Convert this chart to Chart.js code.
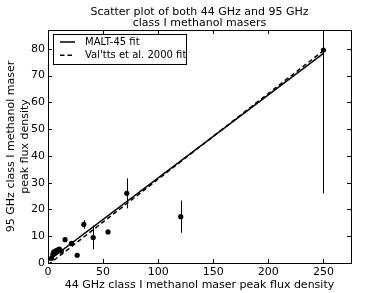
<!DOCTYPE html>
<html>
<head>
<meta charset="utf-8">
<script src="https://cdn.jsdelivr.net/npm/chart.js@4.4.1/dist/chart.umd.min.js"></script>
<style>
  html, body { margin: 0; padding: 0; background: #fff; }
</style>
</head>
<body>
<canvas id="chart" width="390" height="293"></canvas>
<script>
// maser peak flux densities
const flux44 = [3.2, 4.5, 5.2, 5.8, 6.5, 7.2, 8.0, 9.0, 10.3, 12.0, 15.5, 21.3, 26.5, 32.5, 41.0, 54.5, 71.5, 120.5, 250.0];
const flux95 = [1.8, 3.3, 4.1, 3.6, 4.4, 3.9, 4.6, 4.9, 5.2, 4.4, 8.7, 7.3, 2.9, 14.4, 9.5, 11.6, 26.0, 17.3, 79.5];
const err95 = [0.3, 0.3, 0.4, 0.3, 0.4, 0.3, 0.5, 0.4, 0.5, 0.4, 0.6, 0.5, 0.4, 1.6, 4.4, 0.6, 5.6, 6.0, 53.5];

// fit lines (end points)
const maltFitX = [0, 250];
const maltFitY = [0.8, 78.3];
const valttsFitX = [0, 250];
const valttsFitY = [-0.7, 79.3];

const xTicks = [0, 50, 100, 150, 200, 250];
const yTicks = [0, 10, 20, 30, 40, 50, 60, 70, 80];

const FONT = "'DejaVu Sans', sans-serif";

const toPoints = (xs, ys) => xs.map((x, i) => ({ x: x, y: ys[i] }));

// matplotlib style: frame + inward ticks on all four sides
const framePlugin = {
  id: 'frame',
  afterDatasetsDraw(chart) {
    const { ctx, chartArea: a, scales: { x, y } } = chart;
    ctx.save();
    ctx.strokeStyle = '#000';
    ctx.lineWidth = 1;
    ctx.beginPath();
    xTicks.forEach(v => {
      const px = Math.round(x.getPixelForValue(v)) + 0.5;
      ctx.moveTo(px, a.bottom); ctx.lineTo(px, a.bottom - 4);
      ctx.moveTo(px, a.top); ctx.lineTo(px, a.top + 4);
    });
    yTicks.forEach(v => {
      const py = Math.round(y.getPixelForValue(v)) + 0.5;
      ctx.moveTo(a.left, py); ctx.lineTo(a.left + 4, py);
      ctx.moveTo(a.right, py); ctx.lineTo(a.right - 4, py);
    });
    ctx.stroke();
    ctx.strokeRect(Math.round(a.left) + 0.5, Math.round(a.top) + 0.5,
      Math.round(a.right - a.left), Math.round(a.bottom - a.top));
    ctx.restore();
  }
};

// vertical error bars for the maser points
const errorBarPlugin = {
  id: 'errorBars',
  beforeDatasetsDraw(chart) {
    const { ctx, chartArea: a, scales: { x, y } } = chart;
    ctx.save();
    ctx.beginPath();
    ctx.rect(a.left, a.top, a.right - a.left, a.bottom - a.top);
    ctx.clip();
    ctx.strokeStyle = '#000';
    ctx.lineWidth = 1;
    ctx.beginPath();
    flux44.forEach((v, i) => {
      const px = Math.round(x.getPixelForValue(v)) + 0.5;
      ctx.moveTo(px, y.getPixelForValue(flux95[i] - err95[i]));
      ctx.lineTo(px, y.getPixelForValue(flux95[i] + err95[i]));
    });
    ctx.stroke();
    ctx.restore();
  }
};

// legend box in the upper left corner of the axes
const legendPlugin = {
  id: 'boxLegend',
  afterDraw(chart) {
    const { ctx, chartArea: a } = chart;
    const left = a.left + 5, top = a.top + 4;
    const w = 133, h = 30;
    ctx.save();
    ctx.fillStyle = '#fff';
    ctx.fillRect(left, top, w, h);
    ctx.strokeStyle = '#000';
    ctx.lineWidth = 1;
    ctx.strokeRect(Math.round(left) + 0.5, Math.round(top) + 0.5, w, h);
    const rows = [
      { text: 'MALT-45 fit', dash: [] },
      { text: "Val'tts et al. 2000 fit", dash: [4.5, 3] }
    ];
    rows.forEach((r, i) => {
      const cy = top + 8 + i * 13.3;
      ctx.setLineDash(r.dash);
      ctx.lineWidth = 1.5;
      ctx.beginPath();
      ctx.moveTo(left + 7, cy);
      ctx.lineTo(left + 22, cy);
      ctx.stroke();
      ctx.setLineDash([]);
      ctx.fillStyle = '#000';
      ctx.font = '10px ' + FONT;
      ctx.textBaseline = 'middle';
      ctx.fillText(r.text, left + 32, cy);
    });
    ctx.restore();
  }
};

new Chart(document.getElementById('chart'), {
  type: 'scatter',
  data: {
    datasets: [
      {
        label: 'masers',
        data: toPoints(flux44, flux95),
        pointRadius: 2.6,
        pointHoverRadius: 2.6,
        pointBackgroundColor: '#000',
        pointBorderWidth: 0,
        showLine: false
      },
      {
        label: 'MALT-45 fit',
        data: toPoints(maltFitX, maltFitY),
        showLine: true,
        borderColor: '#000',
        borderWidth: 1.5,
        pointRadius: 0
      },
      {
        label: "Val'tts et al. 2000 fit",
        data: toPoints(valttsFitX, valttsFitY),
        showLine: true,
        borderColor: '#000',
        borderWidth: 1.5,
        borderDash: [4.5, 3],
        pointRadius: 0
      }
    ]
  },
  options: {
    responsive: false,
    animation: false,
    devicePixelRatio: 1,
    layout: { padding: { left: 0, right: 39, top: 0, bottom: 0 } },
    plugins: {
      legend: { display: false },
      tooltip: { enabled: false },
      title: {
        display: true,
        fullSize: false,
        text: ['Scatter plot of both 44 GHz and 95 GHz', 'class I methanol masers'],
        color: '#000',
        font: { family: FONT, size: 11, weight: 'normal', lineHeight: 1.0 },
        padding: { top: 7, bottom: 1 }
      }
    },
    scales: {
      x: {
        type: 'linear',
        min: 0,
        max: 275,
        grid: { display: false, drawTicks: false },
        border: { display: false },
        afterBuildTicks: s => { s.ticks = xTicks.map(v => ({ value: v })); },
        afterFit: s => { s.height = 30; },
        ticks: { color: '#000', padding: 3, font: { family: FONT, size: 11 } },
        title: {
          display: true,
          text: '44 GHz class I methanol maser peak flux density',
          color: '#000',
          font: { family: FONT, size: 11, lineHeight: 1.2 },
          padding: { top: 0, bottom: 1.5 }
        }
      },
      y: {
        type: 'linear',
        min: 0,
        max: 87,
        grid: { display: false, drawTicks: false },
        border: { display: false },
        afterBuildTicks: s => { s.ticks = yTicks.map(v => ({ value: v })); },
        afterFit: s => { s.width = 48; },
        ticks: { color: '#000', padding: 3, font: { family: FONT, size: 11 } },
        title: {
          display: true,
          text: ['95 GHz class I methanol maser', 'peak flux density'],
          color: '#000',
          font: { family: FONT, size: 11, lineHeight: 1.2 },
          padding: { top: 5, bottom: 0 }
        }
      }
    }
  },
  plugins: [errorBarPlugin, framePlugin, legendPlugin]
});
</script>
</body>
</html>
